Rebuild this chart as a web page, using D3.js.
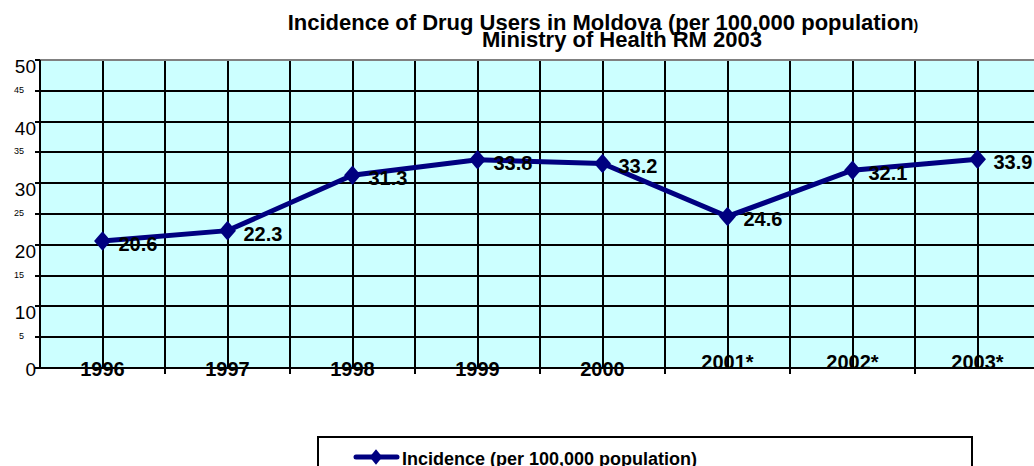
<!doctype html>
<html>
<head>
    <meta charset="utf-8">
    <title>Incidence of Drug Users in Moldova</title>
    <style>
        body {
            margin: 0;
            background: #FFFFFF;
        }
        svg {
            font-family: "Liberation Sans", Arial, sans-serif;
        }
        .grid line {
            stroke: #000000;
            stroke-width: 2;
            shape-rendering: crispEdges;
        }
    </style>
</head>
<body>
    <div id="chart"></div>

    <script src="https://d3js.org/d3.v7.min.js"></script>
    <script>
        var years = ['1996', '1997', '1998', '1999', '2000', '2001*', '2002*', '2003*'];
        var incidence = [20.6, 22.3, 31.3, 33.8, 33.2, 24.6, 32.1, 33.9];
        var major_ticks = [0, 10, 20, 30, 40, 50];
        var minor_ticks = [5, 15, 25, 35, 45];
        var series_name = 'Incidence (per 100,000 population)';

        var svg_width = 1034;
        var svg_height = 466;

        var plot_left = 40, plot_right = 1040, plot_top = 60, plot_bottom = 368;

        var svg = d3.select('#chart').append('svg')
            .attr('width', svg_width)
            .attr('height', svg_height);

        var x = d3.scaleBand()
            .domain(years)
            .range([plot_left, plot_right]);

        var y = d3.scaleLinear()
            .domain([0, 50])
            .range([plot_bottom, plot_top]);

        function cx(i) {
            return x(years[i]) + x.bandwidth() / 2;
        }

        // plot background
        svg.append('rect')
            .attr('x', plot_left)
            .attr('y', plot_top)
            .attr('width', plot_right - plot_left)
            .attr('height', plot_bottom - plot_top)
            .attr('fill', '#CCFFFF');

        var grid = svg.append('g').attr('class', 'grid');

        // horizontal grid lines every 5
        grid.selectAll('line.h')
            .data(d3.range(5, 50, 5))
            .enter().append('line')
            .attr('class', 'h')
            .attr('x1', plot_left - 5)
            .attr('x2', plot_right)
            .attr('y1', function(d) { return Math.round(y(d)); })
            .attr('y2', function(d) { return Math.round(y(d)); });

        // vertical grid lines: category boundaries and centres
        var vlines = [];
        years.forEach(function(d) {
            vlines.push(x(d) + x.bandwidth() / 2);
            vlines.push(x(d) + x.bandwidth());
        });

        grid.selectAll('line.v')
            .data(vlines)
            .enter().append('line')
            .attr('class', 'v')
            .attr('x1', function(d) { return Math.round(d); })
            .attr('x2', function(d) { return Math.round(d); })
            .attr('y1', plot_top)
            .attr('y2', plot_bottom);

        // top border (gray)
        svg.append('line')
            .attr('x1', plot_left).attr('x2', plot_right)
            .attr('y1', plot_top).attr('y2', plot_top)
            .attr('stroke', '#808080')
            .attr('stroke-width', 2);

        // y axis
        svg.append('line')
            .attr('x1', plot_left).attr('x2', plot_left)
            .attr('y1', plot_top).attr('y2', plot_bottom)
            .attr('stroke', '#000').attr('stroke-width', 2);

        svg.selectAll('line.ytick')
            .data(major_ticks)
            .enter().append('line')
            .attr('class', 'ytick')
            .attr('x1', plot_left - 5).attr('x2', plot_left)
            .attr('y1', function(d) { return Math.round(y(d)); })
            .attr('y2', function(d) { return Math.round(y(d)); })
            .attr('stroke', '#000').attr('stroke-width', 2);

        svg.selectAll('text.major')
            .data(major_ticks)
            .enter().append('text')
            .attr('class', 'major')
            .attr('x', plot_left - 4)
            .attr('y', function(d) { return d === 0 ? y(d) + 8 : y(d) + 13; })
            .attr('text-anchor', 'end')
            .attr('font-size', '19px')
            .text(function(d) { return d; });

        svg.selectAll('text.minor')
            .data(minor_ticks)
            .enter().append('text')
            .attr('class', 'minor')
            .attr('x', 24)
            .attr('y', function(d) { return y(d) + 2; })
            .attr('text-anchor', 'end')
            .attr('font-size', '9px')
            .text(function(d) { return d; });

        // x axis
        svg.append('line')
            .attr('x1', plot_left - 5).attr('x2', plot_right)
            .attr('y1', plot_bottom).attr('y2', plot_bottom)
            .attr('stroke', '#000').attr('stroke-width', 2);

        svg.selectAll('line.xtick')
            .data(years)
            .enter().append('line')
            .attr('class', 'xtick')
            .attr('x1', function(d) { return Math.round(x(d) + x.bandwidth()); })
            .attr('x2', function(d) { return Math.round(x(d) + x.bandwidth()); })
            .attr('y1', plot_bottom)
            .attr('y2', plot_bottom + 6)
            .attr('stroke', '#000').attr('stroke-width', 2);

        svg.selectAll('text.cat')
            .data(years)
            .enter().append('text')
            .attr('class', 'cat')
            .attr('x', function(d) { return x(d) + x.bandwidth() / 2; })
            .attr('y', function(d) { return d.indexOf('*') > 0 ? plot_bottom + 1 : plot_bottom + 8; })
            .attr('text-anchor', 'middle')
            .attr('font-weight', 'bold')
            .attr('font-size', '20px')
            .text(function(d) { return d; });

        // series line
        var line = d3.line()
            .x(function(d, i) { return cx(i); })
            .y(function(d) { return y(d); });

        svg.append('path')
            .datum(incidence)
            .attr('d', line)
            .attr('fill', 'none')
            .attr('stroke', '#000080')
            .attr('stroke-width', 5);

        var diamond = d3.symbol().type(d3.symbolDiamond).size(110);

        svg.selectAll('path.marker')
            .data(incidence)
            .enter().append('path')
            .attr('class', 'marker')
            .attr('d', diamond)
            .attr('fill', '#000080')
            .attr('transform', function(d, i) {
                return 'translate(' + cx(i) + ',' + y(d) + ') scale(1.5,1)';
            });

        svg.selectAll('text.val')
            .data(incidence)
            .enter().append('text')
            .attr('class', 'val')
            .attr('x', function(d, i) { return cx(i) + 16; })
            .attr('y', function(d) { return y(d) + 10; })
            .attr('font-weight', 'bold')
            .attr('font-size', '20px')
            .text(function(d) { return d.toFixed(1); });

        // title
        var title = svg.append('text')
            .attr('x', 603)
            .attr('y', 30)
            .attr('text-anchor', 'middle')
            .attr('font-weight', 'bold')
            .attr('font-size', '22px');
        title.append('tspan').text('Incidence of Drug Users in Moldova (per 100,000 population');
        title.append('tspan').attr('font-size', '14px').text(')');

        svg.append('text')
            .attr('x', 622)
            .attr('y', 47)
            .attr('text-anchor', 'middle')
            .attr('font-weight', 'bold')
            .attr('font-size', '22px')
            .text('Ministry of Health RM 2003');

        // legend
        svg.append('rect')
            .attr('x', 318)
            .attr('y', 437)
            .attr('width', 654)
            .attr('height', 40)
            .attr('fill', '#FFFFFF')
            .attr('stroke', '#000')
            .attr('stroke-width', 2);

        svg.append('line')
            .attr('x1', 356).attr('x2', 397)
            .attr('y1', 457).attr('y2', 457)
            .attr('stroke', '#000080')
            .attr('stroke-width', 5)
            .attr('stroke-linecap', 'round');

        svg.append('path')
            .attr('d', d3.symbol().type(d3.symbolDiamond).size(70))
            .attr('fill', '#000080')
            .attr('transform', 'translate(376,457) scale(1.4,1)');

        svg.append('text')
            .attr('x', 402)
            .attr('y', 465)
            .attr('font-weight', 'bold')
            .attr('font-size', '18px')
            .text(series_name);
    </script>
</body>
</html>
